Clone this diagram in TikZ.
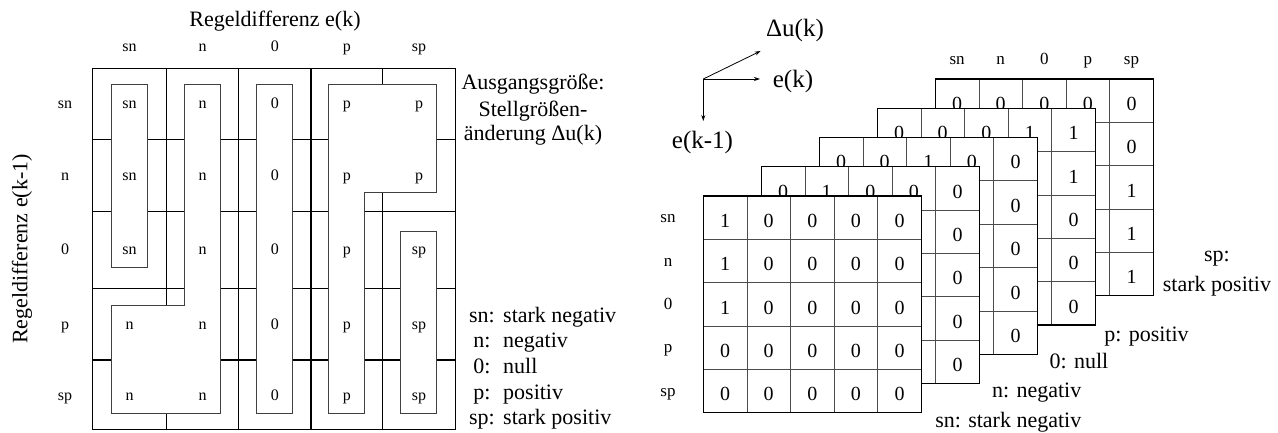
\documentclass[tikz,border=0pt]{standalone}
\usepackage{fontspec}
\setmainfont{Liberation Serif}
\usetikzlibrary{arrows.meta}
\begin{document}
\begin{tikzpicture}[x=1pt,y=-1pt,
  gridline/.style={line width=1.3pt},
  region/.style={fill=white, draw=black!75, line width=0.7pt},
  small/.style={font=\fontsize{16}{18}\selectfont, inner sep=0pt, anchor=base},
  big/.style={font=\fontsize{22}{25}\selectfont, inner sep=0pt, anchor=base},
  bigc/.style={font=\fontsize{22}{25}\selectfont, inner sep=0pt, anchor=center},
  axlab/.style={font=\fontsize{25}{28}\selectfont, inner sep=0pt, anchor=center},
  rlab/.style={font=\fontsize{17}{19}\selectfont, inner sep=0pt, anchor=base},
  digit/.style={font=\fontsize{20}{22}\selectfont, inner sep=0pt, anchor=base},
  innerline/.style={line width=0.8pt, draw=black!70},
  outerline/.style={line width=1.3pt, draw=black},
  axis/.style={line width=0.8pt, -{Stealth[length=6pt,width=4pt]}}]
\useasboundingbox (0,0) rectangle (1278,433);

% ---------------- left table ----------------
\node[big] (title) at (275,26.5) {Regeldifferenz e(k)};
\node[bigc, rotate=90] (ylab) at (22,249) {Regeldifferenz e(k-1)};

\draw[gridline] (92.7,68.3) rectangle (455.3,429.3);
\foreach \x in {166.3,238.7,311,382.7}
  \draw[gridline] (\x,68.3) -- (\x,429.3);
\foreach \y in {139.7,211.3,288.3,360}
  \draw[gridline] (92.7,\y) -- (455.3,\y);

\draw[region] (111,84.3) rectangle (147.3,267.3);
\draw[region] (184.3,84.3) -- (220.7,84.3) -- (220.7,413.5) -- (111,413.5) -- (111,305.7) -- (184.3,305.7) -- cycle;
\draw[region] (256.3,84.3) rectangle (292.7,413.5);
\draw[region] (328.3,84.3) -- (436.7,84.3) -- (436.7,192.7) -- (364.3,192.7) -- (364.3,413.5) -- (328.3,413.5) -- cycle;
\draw[region] (400.7,231) rectangle (436.7,413.5);

\foreach \lab/\cx [count=\i] in {sn/129.5,n/202.5,0/274.85,p/346.85,sp/419}
  \node[small] (hc\i) at (\cx,51.7) {\lab};

\foreach \lab/\cy/\a/\b/\c/\d/\e [count=\r] in
  {sn/104/sn/n/0/p/p, n/175.5/sn/n/0/p/p, 0/249.8/sn/n/0/p/sp,
   p/324/n/n/0/p/sp, sp/395/n/n/0/p/sp}{
  \node[small] (hr\r) at (65,\cy+5) {\lab};
  \node[small] (c\r-1) at (129.5,\cy+5) {\a};
  \node[small] (c\r-2) at (202.5,\cy+5) {\b};
  \node[small] (c\r-3) at (274.85,\cy+5) {\c};
  \node[small] (c\r-4) at (346.85,\cy+5) {\d};
  \node[small] (c\r-5) at (419,\cy+5) {\e};
}

\node[big] (out1) at (533,90) {Ausgangsgröße:};
\node[big] (out2) at (533,116.5) {Stellgrößen-};
\node[big] (out3) at (533,140.5) {änderung Δu(k)};

\foreach \k/\v/\y [count=\i] in {sn:/stark negativ/322, n:/negativ/347.7,
  0:/null/373.4, p:/positiv/399.1, sp:/stark positiv/424.8}{
  \node[big] (lk\i) at (482,\y) {\k};
  \node[big, anchor=base west] (lv\i) at (503,\y) {\v};
}

% ---------------- right stack ----------------
\coordinate (O) at (703.3,79);
\coordinate (ae) at (760,79);
\coordinate (au) at (760.7,51);
\coordinate (ad) at (703.3,121);
\draw[axis] (O) -- (ae);
\draw[axis] (O) -- (au);
\draw[axis] (O) -- (ad);
\node[axlab] (lu) at (795,30) {Δu(k)};
\node[axlab] (le) at (793,81.5) {e(k)};
\node[axlab] (lek) at (702.5,142) {e(k-1)};

\foreach \k/\vals in {
  4/{0,0,0,0,0,0,0,0,0,0,0,0,0,0,1,0,0,0,0,1,0,0,0,0,1},
  3/{0,0,0,1,1,0,0,0,1,1,0,0,0,1,0,0,0,0,1,0,0,0,0,1,0},
  2/{0,0,1,0,0,0,0,1,0,0,0,0,1,0,0,0,0,1,0,0,0,0,1,0,0},
  1/{0,1,0,0,0,0,1,0,0,0,0,1,0,0,0,1,1,0,0,0,1,1,0,0,0},
  0/{1,0,0,0,0,1,0,0,0,0,1,0,0,0,0,0,0,0,0,0,0,0,0,0,0}}{
  \pgfmathsetmacro\lx{703.3+58*\k}
  \pgfmathsetmacro\ty{196-29.25*\k}
  \fill[white] (\lx,\ty) rectangle ++(218,216.8);
  \foreach \j in {1,...,4}{
    \draw[innerline] (\lx+43.6*\j,\ty) -- ++(0,216.8);
    \draw[innerline] (\lx,\ty+43.35*\j) -- ++(218,0);
  }
  \draw[outerline] (\lx,\ty) rectangle ++(218,216.8);
  \foreach \v [count=\idx from 0] in \vals {
    \pgfmathtruncatemacro\rr{div(\idx,5)}
    \pgfmathtruncatemacro\cc{mod(\idx,5)}
    \node[digit] (d\k-\rr-\cc) at (\lx+43.6*\cc+21.8, \ty+43.35*\rr+31.5) {\v};
  }
}

\foreach \lab [count=\i from 0] in {sn,n,0,p,sp}{
  \node[rlab] (rh\i) at (935.3+43.6*\i+21.8,65) {\lab};
  \node[rlab] (rr\i) at (668,196+43.35*\i+21.7+5) {\lab};
}

\node[big] (ls1) at (1008.3,427) {sn: stark negativ};
\node[big] (ls2) at (1036.7,397.3) {n: negativ};
\node[big] (ls3) at (1079,368.3) {0: null};
\node[big] (ls4) at (1146.5,341.7) {p: positiv};
\node[big] (ls5) at (1217,261.7) {sp:};
\node[big] (ls6) at (1217,291.7) {stark positiv};
\end{tikzpicture}
\end{document}
